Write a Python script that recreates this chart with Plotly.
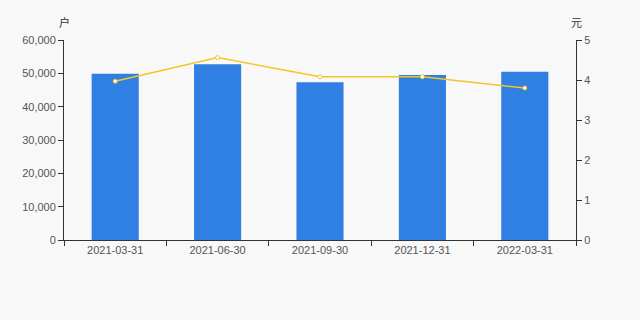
import plotly.graph_objects as go

categories = ["2021-03-31", "2021-06-30", "2021-09-30", "2021-12-31", "2022-03-31"]
holders = [49900, 52700, 47300, 49500, 50500]
price = [3.97, 4.56, 4.08, 4.08, 3.80]
left_ticks = [0, 10000, 20000, 30000, 40000, 50000, 60000]
left_labels = ["0", "10,000", "20,000", "30,000", "40,000", "50,000", "60,000"]
right_ticks = [0, 1, 2, 3, 4, 5]

fig = go.Figure()
fig.add_trace(go.Bar(x=categories, y=holders, marker=dict(color="#2f80e2", line=dict(width=0)),
                     yaxis="y", width=0.46))
fig.add_trace(go.Scatter(x=categories, y=price, yaxis="y2", mode="lines+markers",
                         line=dict(color="#f3c623", width=1.5),
                         marker=dict(color="#ffffff", size=4, line=dict(color="#f3c623", width=1))))

axis_font = dict(family="Liberation Sans, Arial", size=11, color="#555555")
fig.update_layout(
    width=640, height=320,
    margin=dict(l=64, r=64, t=40, b=80),
    paper_bgcolor="#f8f8f8", plot_bgcolor="#f8f8f8",
    showlegend=False,
    xaxis=dict(type="category", showline=True, linecolor="#333333", linewidth=1,
               ticks="outside", ticklen=5, tickcolor="#333333", tickfont=axis_font,
               showgrid=False, zeroline=False, tickson="boundaries"),
    yaxis=dict(range=[0, 60000], tickvals=left_ticks, ticktext=left_labels,
               showline=True, linecolor="#333333", linewidth=1, ticks="outside", ticklen=5,
               tickcolor="#333333", tickfont=axis_font, showgrid=False, zeroline=False),
    yaxis2=dict(range=[0, 5], tickvals=right_ticks, overlaying="y", side="right",
                showline=True, linecolor="#333333", linewidth=1, ticks="outside", ticklen=5,
                tickcolor="#333333", tickfont=axis_font, showgrid=False, zeroline=False),
    annotations=[
        dict(text="户", x=0, xref="paper", y=1, yref="paper", yshift=18, xanchor="center",
             yanchor="middle", showarrow=False,
             font=dict(family="Noto Sans CJK SC", size=11, color="#333333")),
        dict(text="元", x=1, xref="paper", y=1, yref="paper", yshift=18, xanchor="center",
             yanchor="middle", showarrow=False,
             font=dict(family="Noto Sans CJK SC", size=11, color="#333333")),
    ],
)
fig.write_html("out.html")
